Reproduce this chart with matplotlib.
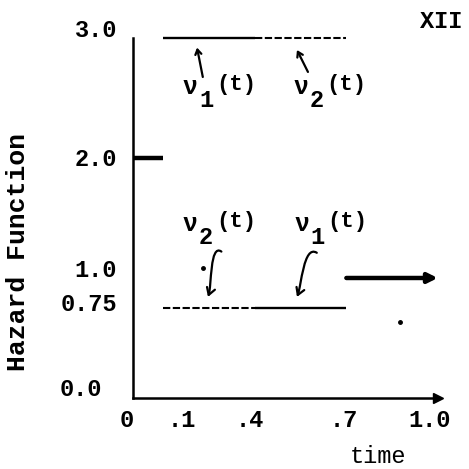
import matplotlib

matplotlib.use("Agg")
import matplotlib.pyplot as plt
import matplotlib.transforms as mtransforms
from matplotlib.patches import FancyArrowPatch
from matplotlib.path import Path

plt.rcParams["font.family"] = ["Liberation Mono", "DejaVu Sans Mono"]
plt.rcParams["font.weight"] = "bold"

# piecewise-constant hazard functions, segment edges on the time axis
seg_start = [0.0, 0.1, 0.4, 0.7]
seg_end = [0.1, 0.4, 0.7, 1.0]
nu1 = [2.0, 3.0, 0.75, 1.0]
nu2 = [2.0, 0.75, 3.0, 1.0]

x_ticks = [0.0, 0.1, 0.4, 0.7, 1.0]
x_labels = ["0", ".1", ".4", ".7", "1.0"]
y_ticks = [0.0, 0.75, 1.0, 2.0, 3.0]
y_labels = ["0.0", "0.75", "1.0", "2.0", "3.0"]

DPI = 100
fig = plt.figure(figsize=(4.69, 4.69), dpi=DPI)
ax = fig.add_axes([0.2836, 0.1514, 0.6823, 0.8188])
ax.set_xlim(0, 1.05)
ax.set_ylim(0, 3.2)

for s in ("top", "right"):
    ax.spines[s].set_visible(False)
ax.spines["left"].set_bounds(0, 3.0)
ax.spines["bottom"].set_bounds(0, 1.0)
for s in ("left", "bottom"):
    ax.spines[s].set_linewidth(1.8)
ax.plot([1.0], [0], marker=">", ms=7, color="black", clip_on=False)

# the two hazard curves: shared pieces thick, nu1 solid, nu2 dashed
for a, b, v1, v2 in zip(seg_start, seg_end, nu1, nu2):
    if v1 == v2:
        if b >= 1.0:
            ax.annotate("", xy=(b, v1), xytext=(a, v1),
                        arrowprops=dict(arrowstyle="-|>", lw=3.2, color="black",
                                        mutation_scale=14, shrinkA=0, shrinkB=0))
        else:
            ax.hlines(v1, a, b, colors="black", lw=3.2)
    else:
        ax.hlines(v1, a, b, colors="black", lw=1.7)
        ax.hlines(v2, a, b, colors="black", lw=1.5, linestyles=(0, (3.5, 1.2)))

# ticks: labels on major (no mark), cross marks on minor
ax.set_xticks(x_ticks, x_labels)
ax.set_yticks(y_ticks, y_labels)
ax.set_xticks([0.1, 0.4, 0.7], minor=True)
ax.set_yticks([0.75, 1.0, 2.0, 3.0], minor=True)
ax.tick_params(which="major", length=0, labelsize=17)
ax.tick_params(axis="y", which="major", pad=11.5)
ax.tick_params(axis="x", which="major", pad=8)
ax.tick_params(which="minor", direction="inout", length=10, width=1.8)


def nudge(label, dx, dy):
    off = mtransforms.ScaledTranslation(dx / DPI, dy / DPI, fig.dpi_scale_trans)
    label.set_transform(label.get_transform() + off)


for lab, (dx, dy) in zip(ax.get_xticklabels(), [(-6, 0), (18, 0), (-5, 0), (-3, 0), (-8, 0)]):
    nudge(lab, dx, dy)
for lab, (dx, dy) in zip(ax.get_yticklabels(), [(-15, 11), (0, 6), (0, 10), (0, 1), (0, 10)]):
    nudge(lab, dx, dy)


def nu_label(x, y, idx):
    ax.annotate("ν", (x, y), ha="center", va="center", fontsize=18)
    ax.annotate(str(idx), (x, y), xytext=(11.5, -9.5), textcoords="offset points",
                ha="center", va="center", fontsize=17)
    ax.annotate("(t)", (x, y), xytext=(33, 2), textcoords="offset points",
                ha="center", va="center", fontsize=16)


nu_label(0.187, 2.59, 1)
nu_label(0.551, 2.59, 2)
nu_label(0.187, 1.45, 2)
nu_label(0.554, 1.45, 1)

# small pointers to the upper lines
for tail, tip in [((0.229, 2.675), (0.210, 2.92)), ((0.574, 2.717), (0.538, 2.90))]:
    ax.annotate("", xy=tip, xytext=tail,
                arrowprops=dict(arrowstyle="->,head_length=0.35,head_width=0.22",
                                lw=1.6, color="black", shrinkA=0, shrinkB=0))

# integral-shaped pointers to the lower lines
for pts in [
    [(0.290, 1.22), (0.252, 1.29), (0.258, 0.93), (0.246, 0.842)],
    [(0.603, 1.21), (0.560, 1.28), (0.552, 0.93), (0.538, 0.842)],
]:
    p = Path(pts, [Path.MOVETO, Path.CURVE4, Path.CURVE4, Path.CURVE4])
    ax.add_patch(FancyArrowPatch(path=p, arrowstyle="->,head_length=0.5,head_width=0.3",
                                 lw=1.6, color="black", mutation_scale=10))

# specks from the original scan
ax.plot([0.23, 0.875], [1.083, 0.633], "o", ms=2.5, color="black")

ax.set_xlabel("time", fontsize=17)
ax.xaxis.set_label_coords((378 - 133) / 320, -47 / 384)
fig.text(18 / 469, 1 - 252 / 469, "Hazard Function", rotation=90,
         ha="center", va="center", fontsize=19)
fig.text(441 / 469, 1 - 22 / 469, "XII", ha="center", va="center", fontsize=17)

fig.savefig("out.png", dpi=DPI, facecolor="white")
